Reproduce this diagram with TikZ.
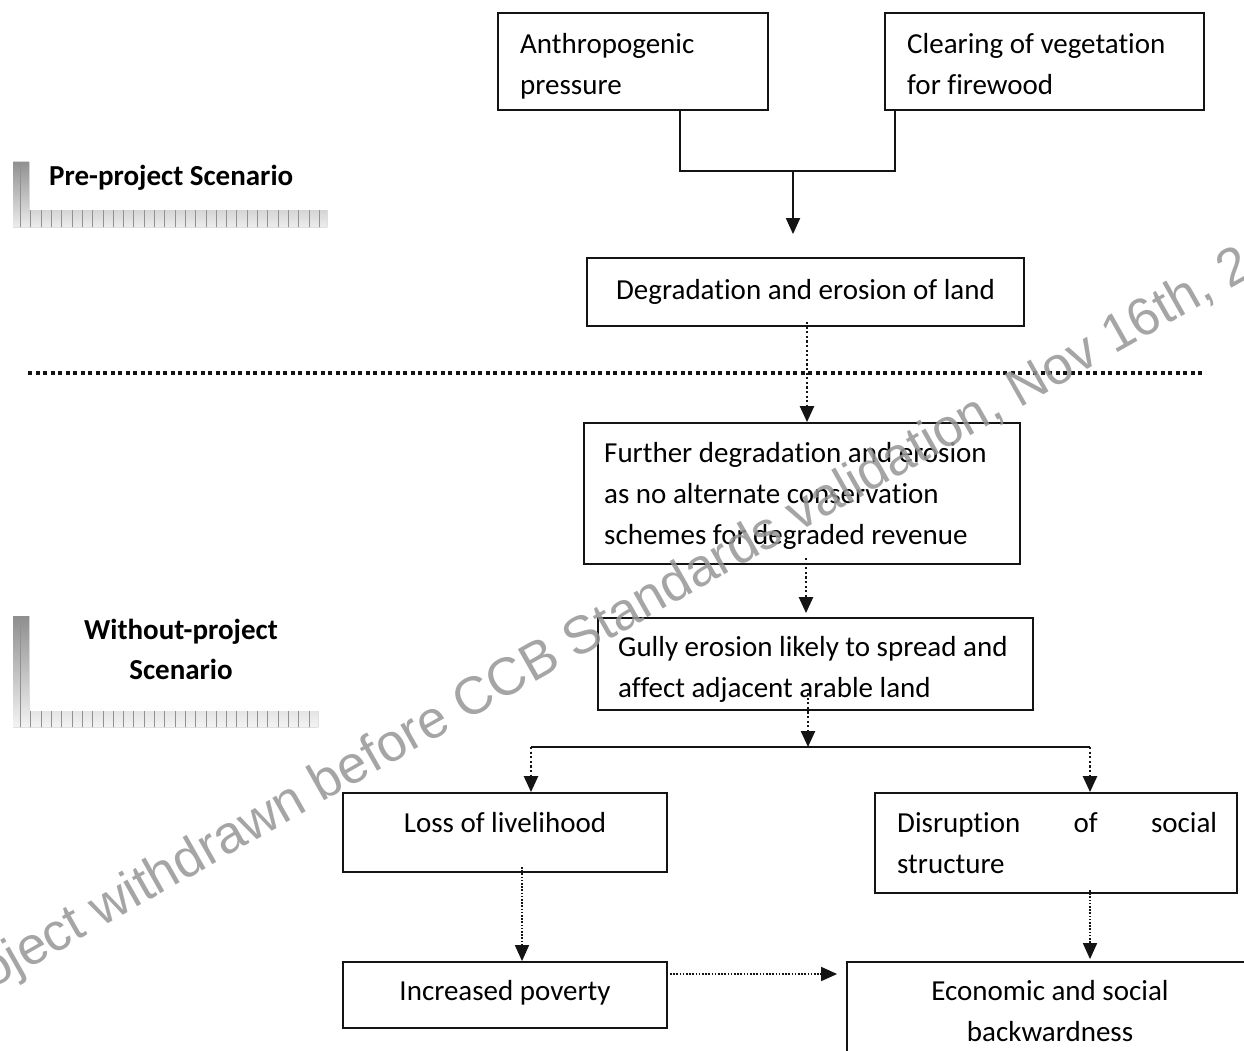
\documentclass[tikz,border=0pt]{standalone}
\usepackage{fontspec}
\setmainfont{Carlito}[Ligatures=NoCommon]
\newfontfamily\wmfont{Liberation Sans}
\usetikzlibrary{arrows.meta}
\definecolor{ink}{RGB}{20,20,20}
\definecolor{shade}{RGB}{178,178,178}
\definecolor{shadeline}{RGB}{145,145,145}
\definecolor{wm}{RGB}{150,150,150}
\newcommand\fs{\rule{0pt}{22pt}}
\begin{document}
\begin{tikzpicture}[x=1pt,y=-1pt,
  box/.style={draw=ink,line width=1.8pt,rectangle,inner sep=0pt},
  txt/.style={inner sep=0pt,font=\fontsize{29}{41}\selectfont,text=black},
  lbl/.style={inner sep=0pt,font=\fontsize{29}{40}\selectfont\bfseries,text=black},
  solidline/.style={draw=ink,line width=1.8pt},
  tip/.style={-{Triangle[width=14pt,length=16pt]}},
  dots/.style={draw=ink,line width=2.4pt,dash pattern=on 2.2pt off 2.4pt},
  fdots/.style={draw=ink,line width=1.7pt,dash pattern=on 1.6pt off 1.6pt},
  sepline/.style={draw=ink,line width=4pt,dash pattern=on 4pt off 3.5pt},
  wmtext/.style={inner sep=0pt,font=\wmfont\fontsize{53}{53}\selectfont,text=wm,text opacity=0.85}
]
\useasboundingbox (0,0) rectangle (1244,1051);
\clip (0,0) rectangle (1244,1051);
\fill[white] (0,0) rectangle (1244,1051);

% scenario markers
\begin{scope}
  \clip (13,162) rectangle (29,227) (13,210) rectangle (327,227);
  \fill[shade] (0,150) rectangle (340,240);
  \draw[shadeline,line width=0.9pt,step=10.3] (13,162) grid (330,230);
\end{scope}
\begin{scope}
  \clip (13,616) rectangle (29,727) (13,711) rectangle (318,727);
  \fill[shade] (0,600) rectangle (340,740);
  \draw[shadeline,line width=0.9pt,step=10.3] (13,616) grid (330,730);
\end{scope}
\node[lbl,anchor=north west] (pre) at (49,163) {\fs Pre-project Scenario};
\node[lbl,anchor=north,align=center] (without) at (181,617) {\fs Without-project\\Scenario};

% boxes
\node[box,minimum width=270,minimum height=97] (A) at (633,61.5) {};
\node[box,minimum width=319,minimum height=97] (B) at (1044.5,61.5) {};
\node[box,minimum width=437,minimum height=68] (C) at (805.5,292) {};
\node[box,minimum width=436,minimum height=141] (D) at (802,493.5) {};
\node[box,minimum width=435,minimum height=92] (E) at (815.5,664) {};
\node[box,minimum width=324,minimum height=79] (L) at (505,832.5) {};
\node[box,minimum width=362,minimum height=100] (R) at (1056,843) {};
\node[box,minimum width=324,minimum height=66] (P) at (505,995) {};
\node[box,minimum width=420,minimum height=118] (Q) at (1057,1021) {};

% texts
\node[txt,anchor=north west,align=left] (At) at (520,31) {\fs Anthropogenic\\pressure};
\node[txt,anchor=north west,align=left] (Bt) at (907,31) {\fs Clearing of vegetation\\for firewood};
\node[txt,anchor=north] (Ct) at (805.5,277) {\fs Degradation and erosion of land};
\node[txt,anchor=north west,align=left] (Dt) at (604,440) {\fs Further degradation and erosion\\as no alternate conservation\\schemes for degraded revenue};
\node[txt,anchor=north west,align=left] (Et) at (618,634) {\fs Gully erosion likely to spread and\\affect adjacent arable land};
\node[txt,anchor=north] (Lt) at (505,810) {\fs Loss of livelihood};
\node[txt,anchor=north west,align=left] (Rt) at (897,810) {\fs\makebox[320pt][s]{Disruption of social}\\structure};
\node[txt,anchor=north] (Pt) at (505,978) {\fs Increased poverty};
\node[txt,anchor=north,align=center] (Qt) at (1050,978) {\fs Economic and social\\backwardness};

% connectors
\coordinate (jA) at (680,171);
\coordinate (jB) at (895,171);
\coordinate (jM) at (793,171);
\draw[solidline] (A.south -| jA) -- (jA) -- (jB) -- (B.south -| jB);
\draw[solidline,tip,shorten >=23pt] (jM) -- (jM |- C.north);

\coordinate (sepL) at (28,373);
\coordinate (sepR) at (1202,373);
\draw[sepline] (sepL) -- (sepR);

\coordinate (cd) at (807,322);
\draw[dots,tip] (cd) -- (cd |- D.north);
\coordinate (de) at (806,558);
\draw[dots,tip,shorten >=4pt] (de) -- (de |- E.north);
\coordinate (eb) at (808,693);
\coordinate (hl) at (531,747);
\coordinate (hr) at (1090,747);
\draw[dots,tip] (eb) -- (eb |- hl);
\draw[solidline] (hl) -- (hr);
\draw[dots,tip] (hl) -- (hl |- L.north);
\draw[dots,tip] (hr) -- (hr |- R.north);
\coordinate (lp) at (522,867);
\draw[fdots,tip] (lp) -- (lp |- P.north);
\coordinate (rq) at (1090,890);
\draw[fdots,tip,shorten >=2pt] (rq) -- (rq |- Q.north);
\coordinate (pq) at (670,974);
\draw[fdots,tip,shorten >=9pt] (pq) -- (pq -| Q.west);

% watermark
\node[wmtext,anchor=base west,rotate=29.5] (wmk) at (-55,1016) {Project withdrawn before CCB Standards validation, Nov 16th, 2};
\end{tikzpicture}
\end{document}
